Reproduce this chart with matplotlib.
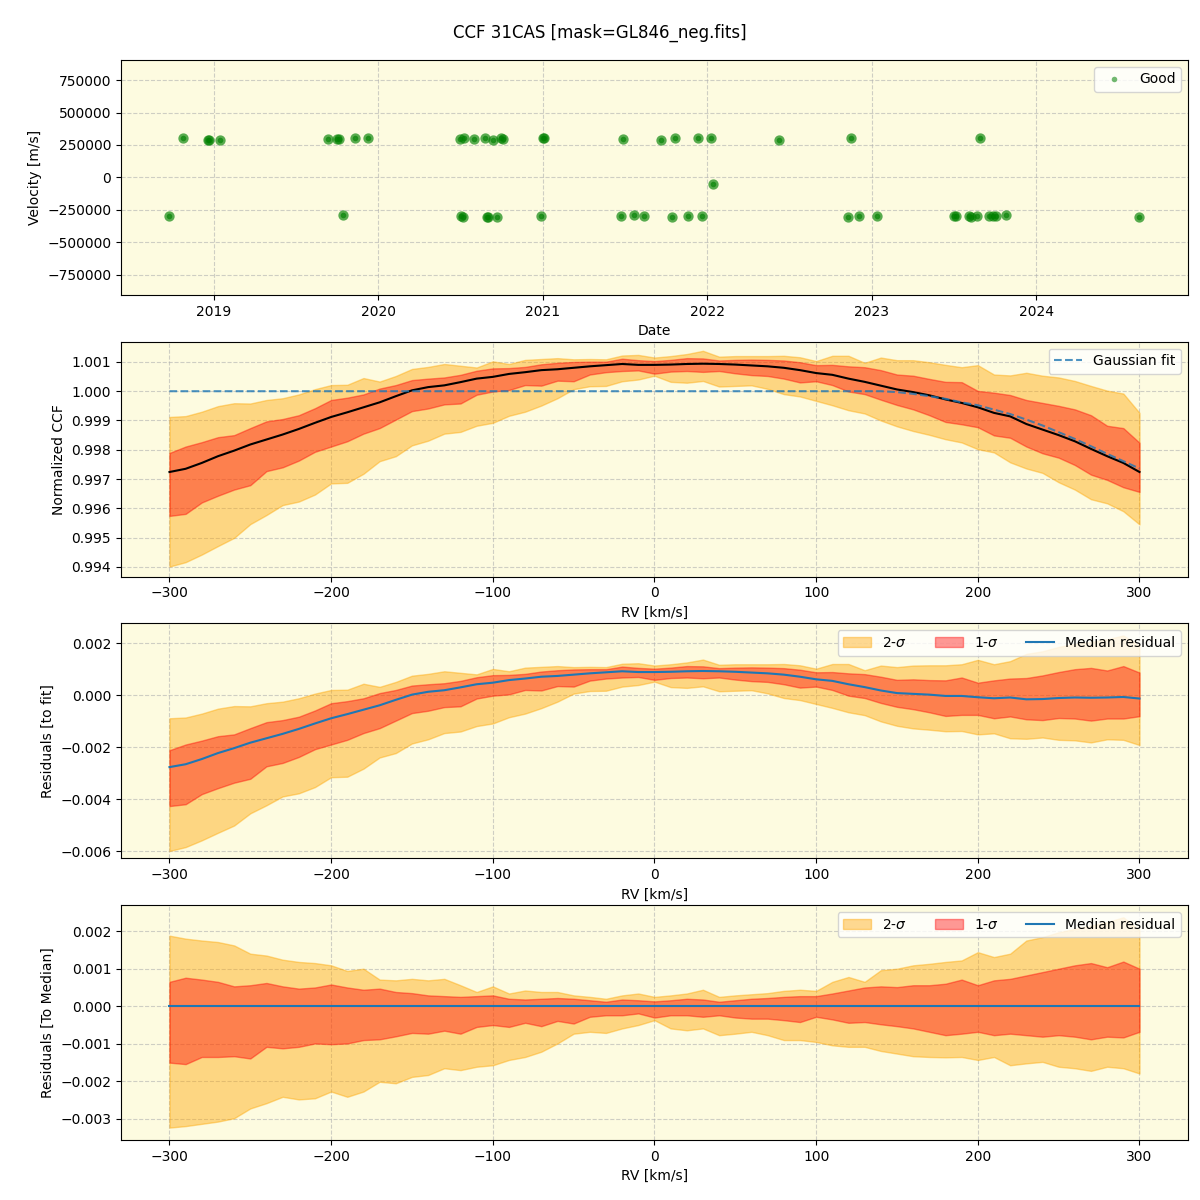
import numpy as np
import pandas as pd
import matplotlib
matplotlib.use('Agg')
import matplotlib.pyplot as plt
from matplotlib.lines import Line2D
from matplotlib.ticker import MultipleLocator

# Velocities of the individual observations
obs_dates = ['2018-09-25', '2018-10-25', '2018-12-19', '2018-12-21', '2019-01-16',
             '2019-09-12', '2019-10-02', '2019-10-06', '2019-10-15', '2019-11-11',
             '2019-12-10', '2020-07-01', '2020-07-03', '2020-07-07', '2020-07-10',
             '2020-08-02', '2020-08-26', '2020-08-29', '2020-09-02', '2020-09-11',
             '2020-09-20', '2020-09-30', '2020-10-04', '2020-12-27', '2021-01-01',
             '2021-01-04', '2021-06-24', '2021-06-28', '2021-07-21', '2021-08-14',
             '2021-09-20', '2021-10-15', '2021-10-22', '2021-11-20', '2021-12-12',
             '2021-12-21', '2022-01-08', '2022-01-14', '2022-06-09', '2022-11-08',
             '2022-11-16', '2022-12-04', '2023-01-12', '2023-07-03', '2023-07-06',
             '2023-08-04', '2023-08-10', '2023-08-22', '2023-08-29', '2023-09-17',
             '2023-09-27', '2023-10-04', '2023-10-26', '2024-08-17']
obs_vel = [-297000, 303000, 288000, 288000, 288000,
           295000, 295000, 295000, -289000, 303000,
           303000, 295000, -297000, -302000, 300000,
           295000, 303000, -302000, -302000, 285000,
           -302000, 300000, 298000, -297000, 303000,
           303000, -297000, 295000, -289000, -297000,
           288000, -302000, 303000, -297000, 303000,
           -297000, 303000, -51000, 288000, -302000,
           303000, -297000, -297000, -297000, -297000,
           -297000, -302000, -297000, 303000, -297000,
           -297000, -297000, -289000, -302000]

# CCF grid
rv = np.arange(-300, 301, 10)

ccf_median = [0.99724, 0.99735, 0.99755, 0.99778, 0.99797, 0.99818, 0.99835, 0.99852,
              0.99871, 0.99892, 0.99912, 0.99928, 0.99945, 0.99962, 0.99983, 1.00003,
              1.00014, 1.00020, 1.00031, 1.00043, 1.00049, 1.00059, 1.00065, 1.00072,
              1.00075, 1.00080, 1.00085, 1.00089, 1.00093, 1.00090, 1.00090,
              1.00091, 1.00093, 1.00094, 1.00093, 1.00091, 1.00088, 1.00085, 1.00080,
              1.00072, 1.00062, 1.00056, 1.00043, 1.00032, 1.00019, 1.00006, 0.99997,
              0.99986, 0.99972, 0.99960, 0.99945, 0.99926, 0.99914, 0.99888, 0.99869,
              0.99850, 0.99829, 0.99803, 0.99778, 0.99755, 0.99724]

gauss_fit = [1.0] * 45 + [0.99997, 0.99991, 0.99983, 0.99974, 0.99962, 0.99952,
                          0.99937, 0.99922, 0.99903, 0.99883, 0.99860, 0.99837,
                          0.99812, 0.99786, 0.99761, 0.99736]

# Band edges relative to the median CCF (units of 1e-3)
hi2 = [1.88, 1.80, 1.75, 1.71, 1.62, 1.40, 1.35, 1.24, 1.18, 1.15, 1.09, 0.94, 1.00,
       0.71, 0.69, 0.73, 0.69, 0.73, 0.56, 0.38, 0.53, 0.34, 0.42, 0.38, 0.38, 0.29,
       0.25, 0.20, 0.29, 0.34, 0.25,
       0.29, 0.34, 0.44, 0.25, 0.29, 0.32, 0.35, 0.41, 0.44, 0.41, 0.65, 0.78, 0.65,
       0.96, 1.00, 1.09, 1.13, 1.18, 1.22, 1.44, 1.31, 1.40, 1.75, 1.84, 1.97, 2.06,
       2.15, 2.24, 2.37, 2.02]
hi1 = [0.65, 0.76, 0.71, 0.65, 0.53, 0.56, 0.62, 0.53, 0.47, 0.50, 0.58, 0.50, 0.44,
       0.47, 0.38, 0.35, 0.29, 0.27, 0.25, 0.27, 0.29, 0.20, 0.18, 0.20, 0.22, 0.20,
       0.16, 0.12, 0.18, 0.16, 0.13,
       0.16, 0.20, 0.18, 0.12, 0.16, 0.20, 0.22, 0.25, 0.27, 0.27, 0.34, 0.42, 0.50,
       0.53, 0.51, 0.56, 0.56, 0.60, 0.71, 0.56, 0.69, 0.73, 0.82, 0.91, 1.00, 1.09,
       1.15, 1.04, 1.19, 1.00]
lo1 = [-1.50, -1.54, -1.35, -1.35, -1.33, -1.39, -1.08, -1.12, -1.08, -0.99, -1.01,
       -0.99, -0.90, -0.88, -0.80, -0.71, -0.73, -0.65, -0.73, -0.55, -0.50, -0.55,
       -0.44, -0.53, -0.39, -0.46, -0.28, -0.24, -0.24, -0.19, -0.30,
       -0.24, -0.24, -0.28, -0.24, -0.30, -0.33, -0.33, -0.37, -0.42, -0.28, -0.35,
       -0.44, -0.42, -0.48, -0.53, -0.59, -0.68, -0.77, -0.73, -0.68, -0.77, -0.73,
       -0.77, -0.81, -0.77, -0.81, -0.88, -0.81, -0.83, -0.68]
lo2 = [-3.23, -3.19, -3.13, -3.07, -2.98, -2.72, -2.58, -2.41, -2.48, -2.45, -2.27,
       -2.41, -2.27, -2.01, -2.05, -1.88, -1.83, -1.65, -1.70, -1.61, -1.57, -1.43,
       -1.35, -1.21, -0.99, -0.73, -0.68, -0.71, -0.59, -0.50, -0.37,
       -0.59, -0.64, -0.59, -0.77, -0.73, -0.68, -0.77, -0.90, -0.90, -0.95, -1.04,
       -1.08, -1.08, -1.19, -1.26, -1.33, -1.35, -1.36, -1.35, -1.43, -1.35, -1.57,
       -1.52, -1.48, -1.61, -1.65, -1.72, -1.61, -1.65, -1.79]

med = np.array(ccf_median)
fit = np.array(gauss_fit)
hi2 = np.array(hi2) * 1e-3
hi1 = np.array(hi1) * 1e-3
lo1 = np.array(lo1) * 1e-3
lo2 = np.array(lo2) * 1e-3

bg = '#fdfbe0'
fig, axes = plt.subplots(4, 1, figsize=(12, 12))
fig.subplots_adjust(left=0.1008, right=0.99, top=0.95, bottom=0.05, hspace=0.2)
fig.suptitle('CCF 31CAS [mask=GL846_neg.fits]', fontsize=12, y=0.98)

for ax in axes:
    ax.set_facecolor(bg)
    ax.grid(True, linestyle='--', alpha=0.6)
    ax.set_axisbelow(True)

# Velocity time series
ax = axes[0]
ax.plot(pd.to_datetime(obs_dates), obs_vel, ls='', marker='o', color='green',
        alpha=0.65, ms=4, mew=3.4)
ax.set_ylim(-905000, 905000)
ax.set_xlabel('Date')
ax.set_ylabel('Velocity [m/s]')
good = Line2D([], [], ls='', marker='o', color='green', alpha=0.55, ms=4, mew=0)
ax.legend([good], ['Good'], loc='upper right')

# Normalized CCF
ax = axes[1]
ax.fill_between(rv, med + lo2, med + hi2, color='orange', alpha=0.42)
ax.fill_between(rv, med + lo1, med + hi1, color='red', alpha=0.4)
ax.plot(rv, med, color='black', lw=1.5)
ax.plot(rv, fit, color='C0', ls='--', lw=1.5, alpha=0.8, label='Gaussian fit')
ax.set_ylim(0.99367, 1.00169)
ax.yaxis.set_major_locator(MultipleLocator(0.001))
ax.ticklabel_format(axis='y', useOffset=False)
ax.set_xlabel('RV [km/s]')
ax.set_ylabel('Normalized CCF')
ax.legend(loc='upper right')

# Residuals to the fit
ax = axes[2]
res = med - fit
ax.fill_between(rv, res + lo2, res + hi2, color='orange', alpha=0.42, label='2-$\\sigma$')
ax.fill_between(rv, res + lo1, res + hi1, color='red', alpha=0.4, label='1-$\\sigma$')
ax.plot(rv, res, color='C0', lw=1.5, label='Median residual')
ax.set_ylim(-0.00627, 0.00277)
ax.set_xlabel('RV [km/s]')
ax.set_ylabel('Residuals [to fit]')
ax.legend(loc='upper right', ncol=3)

# Residuals to the median
ax = axes[3]
ax.fill_between(rv, lo2, hi2, color='orange', alpha=0.42, label='2-$\\sigma$')
ax.fill_between(rv, lo1, hi1, color='red', alpha=0.4, label='1-$\\sigma$')
ax.plot(rv, med - med, color='C0', lw=1.5, label='Median residual')
ax.set_ylim(-0.00356, 0.00269)
ax.set_xlabel('RV [km/s]')
ax.set_ylabel('Residuals [To Median]')
ax.legend(loc='upper right', ncol=3)

fig.savefig('out.png', dpi=100)
